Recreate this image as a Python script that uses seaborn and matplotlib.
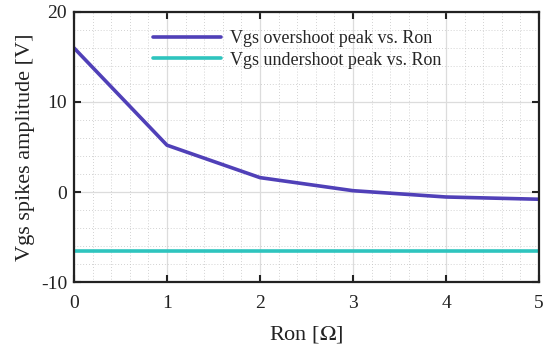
import matplotlib
matplotlib.use("Agg")
import matplotlib.pyplot as plt
from matplotlib.ticker import MultipleLocator
import seaborn as sns
import pandas as pd

ron = [0, 1, 2, 3, 4, 5]
overshoot = [16.0, 5.2, 1.6, 0.15, -0.55, -0.8]
undershoot = [-6.6, -6.6, -6.6, -6.6, -6.6, -6.6]
labels = ["Vgs overshoot peak vs. Ron", "Vgs undershoot peak vs. Ron"]
colors = ["#5040B8", "#2EC4BE"]

df = pd.DataFrame({
    "Ron": ron * 2,
    "Vgs": overshoot + undershoot,
    "series": [labels[0]] * len(ron) + [labels[1]] * len(ron),
})

sns.set_style("white")
plt.rcParams["font.family"] = ["Liberation Serif", "DejaVu Serif"]
plt.rcParams["mathtext.fontset"] = "stix"
plt.rcParams["axes.unicode_minus"] = False

fig = plt.figure(figsize=(5.48, 3.5), dpi=100)
ax = fig.add_axes([0.135, 0.194, 0.8486, 0.772])

sns.lineplot(data=df, x="Ron", y="Vgs", hue="series", palette=colors,
             linewidth=2.6, ax=ax, legend=True)

ax.set_xlim(0, 5)
ax.set_ylim(-10, 20)
ax.xaxis.set_major_locator(MultipleLocator(1))
ax.yaxis.set_major_locator(MultipleLocator(10))
ax.xaxis.set_minor_locator(MultipleLocator(0.2))
ax.yaxis.set_minor_locator(MultipleLocator(2))
ax.grid(which="major", color="#dcdcdc", linewidth=0.9, linestyle="-")
ax.grid(which="minor", color="#c4c4c4", linewidth=0.6, linestyle=(0, (1, 2.5)))
ax.set_axisbelow(True)

ax.tick_params(which="major", direction="in", length=5, width=1.5,
               bottom=True, left=True, top=True, right=True,
               labelsize=14, colors="#222222", labelcolor="#222222")
ax.tick_params(axis="x", which="major", pad=9)
ax.tick_params(axis="y", which="major", pad=5)
ax.tick_params(which="minor", length=0)
for s in ax.spines.values():
    s.set_linewidth(1.6)
    s.set_color("#222222")

ax.set_xlabel("Ron [$\\Omega$]", fontsize=16, labelpad=9, color="#222222")
ax.set_ylabel("Vgs spikes amplitude [V]", fontsize=16, labelpad=4, color="#222222")

ax.legend(handles=ax.get_legend().legend_handles, labels=labels,
          loc="upper left", bbox_to_anchor=(0.134, 0.993), frameon=False,
          fontsize=13, handlelength=3.8, handletextpad=0.5, labelspacing=0.25)
for ln in ax.get_legend().get_lines():
    ln.set_linewidth(2.6)

fig.savefig("out.png", dpi=100)
